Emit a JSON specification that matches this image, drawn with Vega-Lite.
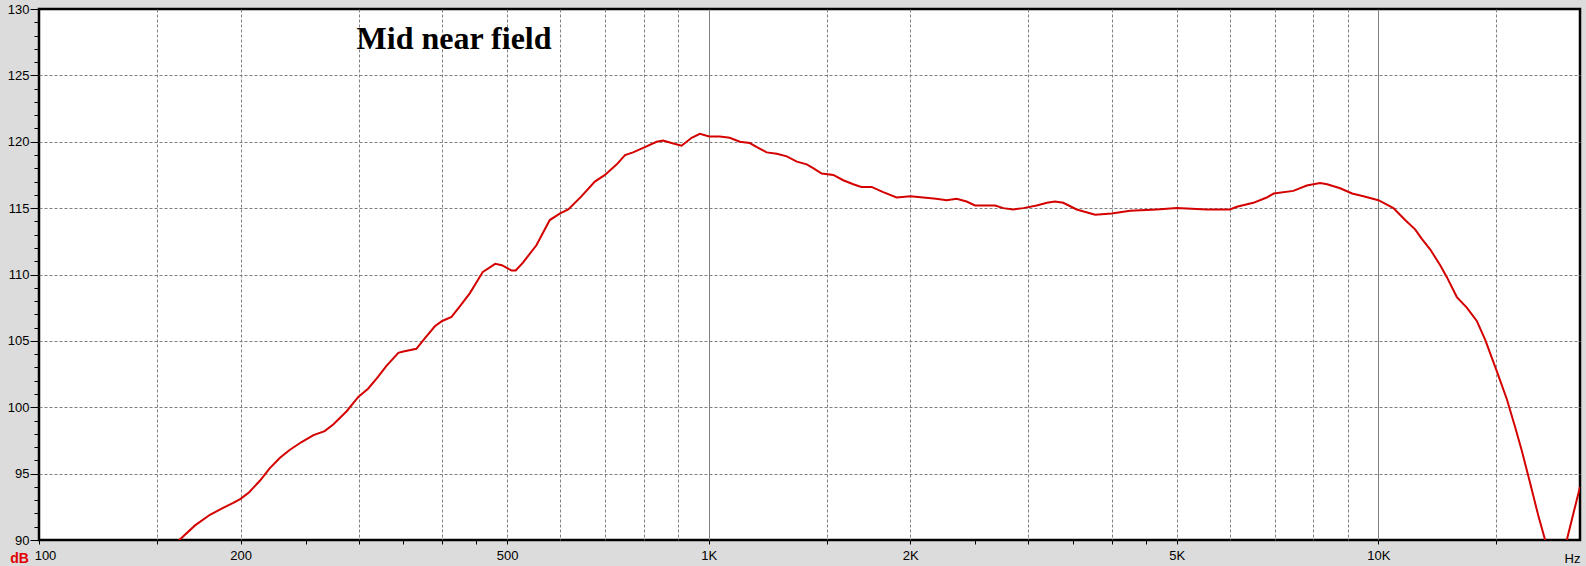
{
  "$schema": "https://vega.github.io/schema/vega-lite/v6.json",
  "width": 1541,
  "height": 531,
  "autosize": {"type": "none"},
  "padding": {"left": 39, "top": 9, "right": 6, "bottom": 26},
  "background": "#dcdcdc",
  "config": {
    "view": {"fill": "white", "stroke": "black", "strokeWidth": 2.5},
    "font": "Liberation Sans"
  },
  "layer": [
    {
      "data": {
        "values": [
          {"f": 155, "db": 89.4}, {"f": 162, "db": 90.0}, {"f": 171, "db": 91.1}, {"f": 180, "db": 91.9},
          {"f": 188, "db": 92.4}, {"f": 195, "db": 92.8}, {"f": 200, "db": 93.1}, {"f": 206, "db": 93.6},
          {"f": 214, "db": 94.5}, {"f": 221, "db": 95.4}, {"f": 229, "db": 96.2}, {"f": 237, "db": 96.8},
          {"f": 247, "db": 97.4}, {"f": 257, "db": 97.9}, {"f": 267, "db": 98.2}, {"f": 275, "db": 98.7},
          {"f": 288, "db": 99.7}, {"f": 300, "db": 100.8}, {"f": 310, "db": 101.4}, {"f": 321, "db": 102.3},
          {"f": 330, "db": 103.1}, {"f": 344, "db": 104.1}, {"f": 350, "db": 104.2}, {"f": 366, "db": 104.4},
          {"f": 377, "db": 105.2}, {"f": 390, "db": 106.1}, {"f": 400, "db": 106.5}, {"f": 413, "db": 106.8},
          {"f": 425, "db": 107.6}, {"f": 440, "db": 108.6}, {"f": 460, "db": 110.2}, {"f": 480, "db": 110.8},
          {"f": 491, "db": 110.7}, {"f": 508, "db": 110.3}, {"f": 515, "db": 110.3}, {"f": 528, "db": 110.9},
          {"f": 553, "db": 112.2}, {"f": 579, "db": 114.1}, {"f": 600, "db": 114.6}, {"f": 617, "db": 114.9},
          {"f": 646, "db": 115.9}, {"f": 676, "db": 117.0}, {"f": 700, "db": 117.5}, {"f": 729, "db": 118.3},
          {"f": 750, "db": 119.0}, {"f": 771, "db": 119.2}, {"f": 803, "db": 119.6}, {"f": 836, "db": 120.0},
          {"f": 855, "db": 120.1}, {"f": 880, "db": 119.9}, {"f": 911, "db": 119.7}, {"f": 943, "db": 120.3},
          {"f": 970, "db": 120.6}, {"f": 1002, "db": 120.4}, {"f": 1039, "db": 120.4}, {"f": 1075, "db": 120.3},
          {"f": 1113, "db": 120.0}, {"f": 1152, "db": 119.9}, {"f": 1180, "db": 119.6}, {"f": 1221, "db": 119.2},
          {"f": 1264, "db": 119.1}, {"f": 1308, "db": 118.9}, {"f": 1354, "db": 118.5}, {"f": 1401, "db": 118.3},
          {"f": 1434, "db": 118.0}, {"f": 1475, "db": 117.6}, {"f": 1535, "db": 117.5}, {"f": 1588, "db": 117.1},
          {"f": 1644, "db": 116.8}, {"f": 1690, "db": 116.6}, {"f": 1751, "db": 116.6}, {"f": 1822, "db": 116.2},
          {"f": 1908, "db": 115.8}, {"f": 2002, "db": 115.9}, {"f": 2091, "db": 115.8}, {"f": 2185, "db": 115.7},
          {"f": 2266, "db": 115.6}, {"f": 2345, "db": 115.7}, {"f": 2427, "db": 115.5}, {"f": 2498, "db": 115.2},
          {"f": 2586, "db": 115.2}, {"f": 2677, "db": 115.2}, {"f": 2754, "db": 115.0}, {"f": 2850, "db": 114.9},
          {"f": 2950, "db": 115.0}, {"f": 3089, "db": 115.2}, {"f": 3200, "db": 115.4}, {"f": 3289, "db": 115.5},
          {"f": 3384, "db": 115.4}, {"f": 3544, "db": 114.9}, {"f": 3776, "db": 114.5}, {"f": 3998, "db": 114.6},
          {"f": 4257, "db": 114.8}, {"f": 4667, "db": 114.9}, {"f": 5000, "db": 115.0}, {"f": 5541, "db": 114.9},
          {"f": 6003, "db": 114.9}, {"f": 6147, "db": 115.1}, {"f": 6505, "db": 115.4}, {"f": 6812, "db": 115.8},
          {"f": 6977, "db": 116.1}, {"f": 7465, "db": 116.3}, {"f": 7818, "db": 116.7}, {"f": 8184, "db": 116.9},
          {"f": 8384, "db": 116.8}, {"f": 8767, "db": 116.5}, {"f": 9136, "db": 116.1}, {"f": 9498, "db": 115.9},
          {"f": 10000, "db": 115.6}, {"f": 10530, "db": 115.0}, {"f": 10963, "db": 114.1}, {"f": 11345, "db": 113.4},
          {"f": 11603, "db": 112.7}, {"f": 11946, "db": 111.9}, {"f": 12368, "db": 110.7}, {"f": 12654, "db": 109.8},
          {"f": 13096, "db": 108.3}, {"f": 13552, "db": 107.5}, {"f": 14026, "db": 106.5}, {"f": 14433, "db": 105.1},
          {"f": 15028, "db": 102.7}, {"f": 15553, "db": 100.6}, {"f": 16004, "db": 98.5}, {"f": 16358, "db": 96.8},
          {"f": 16848, "db": 94.3}, {"f": 17335, "db": 91.8}, {"f": 17741, "db": 90.0}, {"f": 18200, "db": 88.0},
          {"f": 18700, "db": 88.0}, {"f": 19112, "db": 90.0}, {"f": 20000, "db": 94.0}
        ]
      },
      "mark": {"type": "line", "color": "#d40000", "strokeWidth": 2, "clip": true},
      "encoding": {
        "x": {
          "field": "f",
          "type": "quantitative",
          "scale": {"type": "log", "domain": [100, 20000], "nice": false},
          "axis": {
            "values": [100, 150, 200, 250, 300, 350, 400, 450, 500, 600, 700, 800, 900, 1000, 1500, 2000, 2500, 3000, 3500, 4000, 4500, 5000, 6000, 7000, 8000, 9000, 10000, 15000],
            "tickCount": 100,
            "labelExpr": "datum.value == 100 ? '100' : datum.value == 200 ? '200' : datum.value == 500 ? '500' : datum.value == 1000 ? '1K' : datum.value == 2000 ? '2K' : datum.value == 5000 ? '5K' : datum.value == 10000 ? '10K' : ''",
            "labelOverlap": false,
            "labelFlush": false,
            "labelOffset": {"condition": {"test": "datum.value == 100", "value": 6}, "value": 0},
            "labelFontSize": 13,
            "labelColor": "black",
            "labelPadding": 5,
            "domain": false,
            "tickSize": 4,
            "tickColor": "black",
            "tickOpacity": {"condition": {"test": "datum.value == 600 || datum.value == 700 || datum.value == 800 || datum.value == 900 || datum.value == 6000 || datum.value == 7000 || datum.value == 8000 || datum.value == 9000", "value": 0}, "value": 1},
            "grid": true,
            "gridColor": "#808080",
            "gridWidth": 1,
            "gridDash": {"condition": {"test": "datum.value == 1000 || datum.value == 10000", "value": []}, "value": [3, 2]},
            "gridOpacity": {"condition": {"test": "datum.value == 100 || datum.value == 250 || datum.value == 350 || datum.value == 450 || datum.value == 2500 || datum.value == 3500 || datum.value == 4500", "value": 0}, "value": 1},
            "title": "Hz",
            "titleFontSize": 13,
            "titleFontWeight": "normal",
            "titleColor": "black",
            "titleX": 1533,
            "titleY": 18,
            "titleAlign": "center",
            "titleBaseline": "middle"
          }
        },
        "y": {
          "field": "db",
          "type": "quantitative",
          "scale": {"domain": [90, 130], "nice": false, "zero": false},
          "axis": {
            "values": [90, 91, 92, 93, 94, 95, 96, 97, 98, 99, 100, 101, 102, 103, 104, 105, 106, 107, 108, 109, 110, 111, 112, 113, 114, 115, 116, 117, 118, 119, 120, 121, 122, 123, 124, 125, 126, 127, 128, 129, 130],
            "tickCount": 100,
            "format": "d",
            "labelExpr": "datum.value % 5 === 0 ? datum.label : ''",
            "labelOverlap": false,
            "labelFlush": false,
            "labelFontSize": 13,
            "labelColor": "black",
            "labelPadding": 1,
            "domain": false,
            "tickColor": "black",
            "tickSize": {"condition": {"test": "datum.value % 5 === 0", "value": 9}, "value": 5},
            "grid": true,
            "gridColor": "#808080",
            "gridDash": [3, 2],
            "gridOpacity": {"condition": {"test": "datum.value % 5 === 0 && datum.value > 90 && datum.value < 130", "value": 1}, "value": 0},
            "title": "dB",
            "titleColor": "#e00000",
            "titleFontWeight": "bold",
            "titleFontSize": 14,
            "titleAngle": 0,
            "titleX": -20,
            "titleY": 549,
            "titleAlign": "center",
            "titleBaseline": "middle"
          }
        }
      }
    },
    {
      "data": {"values": [{"f": 298, "db": 127, "label": "Mid near field"}]},
      "mark": {"type": "text", "font": "Liberation Serif", "fontWeight": "bold", "fontSize": 32, "align": "left", "baseline": "alphabetic", "color": "black"},
      "encoding": {
        "x": {"field": "f", "type": "quantitative"},
        "y": {"field": "db", "type": "quantitative"},
        "text": {"field": "label"}
      }
    }
  ]
}
